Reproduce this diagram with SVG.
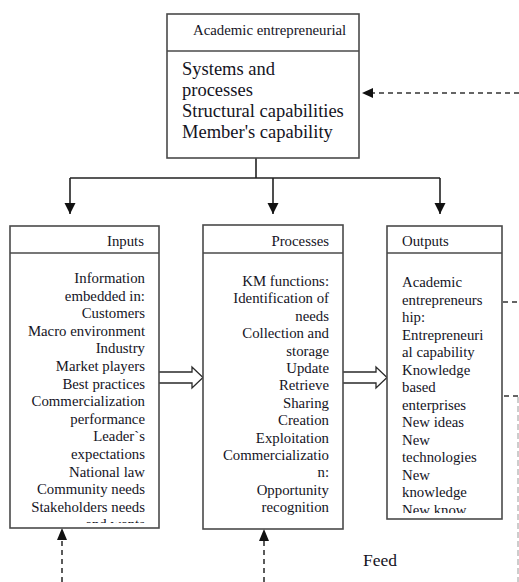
<svg xmlns="http://www.w3.org/2000/svg" width="519" height="582" viewBox="0 0 519 582">
  <style>
    .box { fill: #ffffff; stroke: #4a4a4a; stroke-width: 1.6; }
    .rule { stroke: #4a4a4a; stroke-width: 1.4; }
    .t { font-family: "Liberation Serif", "Times New Roman", serif; fill: #14141e; }
    .small { font-size: 14.8px; }
    .big { font-size: 18.5px; }
    .r { text-anchor: end; }
    .wire { fill: none; stroke: #222; stroke-width: 1.6; }
    .hollow { fill: #ffffff; stroke: #2a2a2a; stroke-width: 1.3; stroke-linejoin: miter; }
    .dash { fill: none; stroke: #333; stroke-width: 1.6; stroke-dasharray: 5 4; }
    .dashlight { fill: none; stroke: #9a9a9a; stroke-width: 1; stroke-dasharray: 6 3; }
  </style>
  <defs>
    <marker id="head" viewBox="0 0 10 10" refX="10" refY="5" markerWidth="7" markerHeight="7" markerUnits="strokeWidth" orient="auto">
      <path d="M0,0 L10,5 L0,10 Z" fill="#111"/>
    </marker>
    <clipPath id="clipInputs"><rect x="10" y="254" width="149" height="269"/></clipPath>
    <clipPath id="clipOutputs"><rect x="387" y="254" width="115" height="259"/></clipPath>
  </defs>

  <!-- connectors -->
  <g id="connectors">
    <!-- tree from the top box to the three boxes -->
    <path class="wire" d="M256,158 V178 M70,178 H440"/>
    <path class="wire" d="M70,178 V214" marker-end="url(#head)"/>
    <path class="wire" d="M273,178 V214" marker-end="url(#head)"/>
    <path class="wire" d="M440,178 V214" marker-end="url(#head)"/>

    <!-- hollow block arrows -->
    <path class="hollow" d="M159,372 H192 V367 L203,377.5 L192,388 V383 H159"/>
    <path class="hollow" d="M343,372 H376 V367 L387,377.5 L376,388 V383 H343"/>

    <!-- feedback into the top box -->
    <path class="dash" d="M519,93 H372"/>
    <path d="M362,93 L373,88 L373,98 Z" fill="#111"/>

    <!-- feedback into inputs and processes -->
    <path class="dash" d="M62,582 V540"/>
    <path d="M62,528 L57,540 L67,540 Z" fill="#111"/>
    <path class="dash" d="M264,582 V541"/>
    <path d="M264,529 L259,541 L269,541 Z" fill="#111"/>

    <!-- feedback leaving outputs -->
    <path class="dash" d="M503,302 H519"/>
    <path class="dash" d="M504,396 H518"/>
    <path class="dashlight" d="M518,397 V582"/>
  </g>

  <!-- top node -->
  <g id="academic-entrepreneurial">
    <rect class="box" x="167" y="14" width="192" height="144"/>
    <line class="rule" x1="167" y1="51" x2="359" y2="51"/>
    <text class="t small" x="193" y="35">Academic entrepreneurial</text>
    <text class="t big" x="182" y="75">Systems and</text>
    <text class="t big" x="182" y="96">processes</text>
    <text class="t big" x="182" y="117">Structural capabilities</text>
    <text class="t big" x="182" y="138">Member's capability</text>
  </g>

  <!-- inputs node -->
  <g id="inputs">
    <rect class="box" x="10" y="226" width="149" height="302"/>
    <line class="rule" x1="10" y1="253" x2="159" y2="253"/>
    <text class="t small r" x="144" y="246">Inputs</text>
    <g clip-path="url(#clipInputs)" class="t small r">
      <text x="145" y="283">Information</text>
      <text x="145" y="300.6">embedded in:</text>
      <text x="145" y="318.2">Customers</text>
      <text x="145" y="335.8">Macro environment</text>
      <text x="145" y="353.4">Industry</text>
      <text x="145" y="371">Market players</text>
      <text x="145" y="388.6">Best practices</text>
      <text x="145" y="406.2">Commercialization</text>
      <text x="145" y="423.8">performance</text>
      <text x="145" y="441.4">Leader`s</text>
      <text x="145" y="459">expectations</text>
      <text x="145" y="476.6">National law</text>
      <text x="145" y="494.2">Community needs</text>
      <text x="145" y="511.8">Stakeholders needs</text>
      <text x="145" y="529.4">and wants</text>
    </g>
  </g>

  <!-- processes node -->
  <g id="processes">
    <rect class="box" x="203" y="225" width="140" height="304"/>
    <line class="rule" x1="203" y1="253" x2="343" y2="253"/>
    <text class="t small r" x="329" y="246">Processes</text>
    <g class="t small r">
      <text x="329" y="286">KM functions:</text>
      <text x="329" y="303.4">Identification of</text>
      <text x="329" y="320.8">needs</text>
      <text x="329" y="338.2">Collection and</text>
      <text x="329" y="355.6">storage</text>
      <text x="329" y="373">Update</text>
      <text x="329" y="390.4">Retrieve</text>
      <text x="329" y="407.8">Sharing</text>
      <text x="329" y="425.2">Creation</text>
      <text x="329" y="442.6">Exploitation</text>
      <text x="329" y="460">Commercializatio</text>
      <text x="329" y="477.4">n:</text>
      <text x="329" y="494.8">Opportunity</text>
      <text x="329" y="512.2">recognition</text>
    </g>
  </g>

  <!-- outputs node -->
  <g id="outputs">
    <rect class="box" x="387" y="226" width="115" height="293"/>
    <line class="rule" x1="387" y1="253" x2="502" y2="253"/>
    <text class="t small" x="402" y="246">Outputs</text>
    <g clip-path="url(#clipOutputs)" class="t small">
      <text x="402" y="287">Academic</text>
      <text x="402" y="304.5">entrepreneurs</text>
      <text x="402" y="322">hip:</text>
      <text x="402" y="339.5">Entrepreneuri</text>
      <text x="402" y="357">al capability</text>
      <text x="402" y="374.5">Knowledge</text>
      <text x="402" y="392">based</text>
      <text x="402" y="409.5">enterprises</text>
      <text x="402" y="427">New ideas</text>
      <text x="402" y="444.5">New</text>
      <text x="402" y="462">technologies</text>
      <text x="402" y="479.5">New</text>
      <text x="402" y="497">knowledge</text>
      <text x="402" y="514.5">New know</text>
    </g>
  </g>

  <!-- label beside the feedback lines -->
  <text id="feed" class="t" x="363" y="566" font-size="17.5">Feed</text>
</svg>
